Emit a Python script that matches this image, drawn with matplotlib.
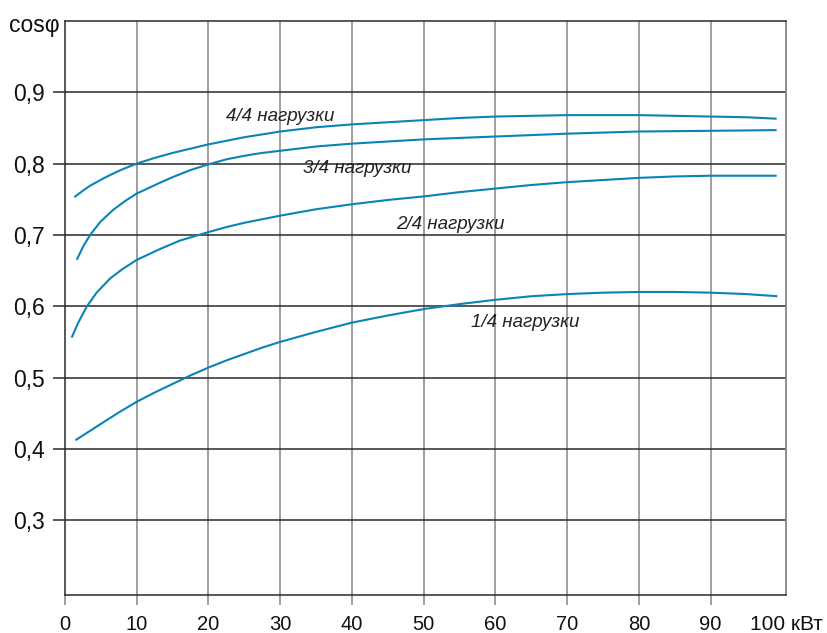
import matplotlib
matplotlib.use("Agg")
import matplotlib.pyplot as plt

plt.rcParams['font.family'] = ['Liberation Sans', 'DejaVu Sans']

# Power factor vs. motor rated power, for different load levels
x_full = [1.3, 2.5, 3.5, 5.3, 6.5, 8, 10, 12.5, 15, 17.5, 20, 22.5, 25, 27.5, 30, 35, 40,
          45, 50, 55, 60, 65, 70, 75, 80, 85, 90, 95, 99.2]
y_full = [0.753, 0.762, 0.769, 0.779, 0.785, 0.792, 0.800, 0.808, 0.815, 0.821,
          0.827, 0.832, 0.837, 0.841, 0.845, 0.851, 0.855, 0.858, 0.861, 0.864,
          0.866, 0.867, 0.868, 0.868, 0.868, 0.867, 0.866, 0.865, 0.863]

x_34 = [1.63, 2.55, 3.5, 4.9, 6.7, 8.3, 10, 13.2, 15, 17.5, 20, 22.5, 25, 27.5, 30, 35,
        40, 45, 50, 55, 60, 65, 70, 75, 80, 85, 90, 95, 99.2]
y_34 = [0.665, 0.684, 0.700, 0.718, 0.735, 0.747, 0.758, 0.773, 0.781, 0.791,
        0.799, 0.806, 0.811, 0.815, 0.818, 0.824, 0.828, 0.831, 0.834, 0.836,
        0.838, 0.840, 0.842, 0.8435, 0.845, 0.8455, 0.846, 0.8465, 0.847]

x_24 = [0.93, 1.85, 3.0, 4.4, 6.3, 8, 10, 13.2, 16, 20, 22.5, 25, 30, 35, 40, 45,
        50, 55, 60, 65, 70, 75, 80, 85, 90, 95, 99.2]
y_24 = [0.556, 0.577, 0.599, 0.619, 0.639, 0.652, 0.665, 0.680, 0.692, 0.704,
        0.711, 0.717, 0.727, 0.736, 0.743, 0.749, 0.754, 0.760, 0.765, 0.770,
        0.774, 0.777, 0.780, 0.782, 0.783, 0.783, 0.783]

x_14 = [1.45, 5, 7.5, 10, 12.5, 15, 17.5, 20, 22.5, 25, 27.5, 30, 35, 40, 45, 50,
        55, 60, 65, 70, 75, 80, 85, 90, 95, 99.3]
y_14 = [0.412, 0.435, 0.451, 0.466, 0.479, 0.491, 0.503, 0.514, 0.524, 0.533,
        0.542, 0.550, 0.564, 0.577, 0.587, 0.596, 0.603, 0.609, 0.614, 0.617,
        0.619, 0.620, 0.620, 0.619, 0.617, 0.614]

series = [(x_full, y_full), (x_34, y_34), (x_24, y_24), (x_14, y_14)]

curve_labels = ["4/4 нагрузки", "3/4 нагрузки", "2/4 нагрузки", "1/4 нагрузки"]
label_x = [22.4, 33.2, 46.1, 56.6]
label_y = [0.866, 0.793, 0.715, 0.577]

x_ticks = [0, 10, 20, 30, 40, 50, 60, 70, 80, 90]
x_ticklabels = ["0", "10", "20", "30", "40", "50", "60", "70", "80", "90"]
y_ticks = [0.3, 0.4, 0.5, 0.6, 0.7, 0.8, 0.9]
y_ticklabels = ["0,3", "0,4", "0,5", "0,6", "0,7", "0,8", "0,9"]

LINE = "#0a84b6"
DARK = "#2a2a2a"
GRAY = "#858585"

fig = plt.figure(figsize=(8.28, 6.33), dpi=100)
ax = fig.add_axes([65 / 828, 1 - 595 / 633, (786 - 65) / 828, (595 - 21) / 633])

ax.set_xlim(0, 100.5)
ax.set_ylim(0.195, 1.0)

# grid: vertical lines lighter than horizontal ones
for xv in x_ticks[1:]:
    ax.axvline(xv, color=GRAY, lw=1.1, zorder=1)
for yv in y_ticks:
    ax.axhline(yv, color=DARK, lw=1.1, zorder=1)

for xs, ys in series:
    ax.plot(xs, ys, color=LINE, lw=1.5, zorder=3, solid_capstyle='butt',
            solid_joinstyle='round')

for t, lx, ly in zip(curve_labels, label_x, label_y):
    ax.text(lx, ly, t, fontsize=13.5, style='italic', color="#222222",
            ha='left', va='center', zorder=4)

for side in ['left', 'top', 'bottom']:
    ax.spines[side].set_color(DARK)
    ax.spines[side].set_linewidth(1.1)
ax.spines['right'].set_color(GRAY)
ax.spines['right'].set_linewidth(1.3)

ax.set_xticks(x_ticks)
ax.set_xticklabels(x_ticklabels, fontsize=14.5, color="#111111")
ax.set_yticks(y_ticks)
ax.set_yticklabels(y_ticklabels, fontsize=16.5, color="#111111")
ax.tick_params(axis='x', direction='out', length=7.2, width=1.1, color=GRAY, pad=7)
ax.tick_params(axis='y', direction='out', length=8.6, width=1.1, color=DARK, pad=6)

ax.annotate("100 кВт", xy=(1, 0), xycoords='axes fraction', xytext=(0, -14.5),
            textcoords='offset points', ha='center', va='top', fontsize=15,
            color="#111111")
ax.annotate("cosφ", xy=(0, 1), xycoords='axes fraction', xytext=(-4, -3),
            textcoords='offset points', ha='right', va='center', fontsize=16.5,
            color="#111111")

fig.savefig("out.png", dpi=100)
